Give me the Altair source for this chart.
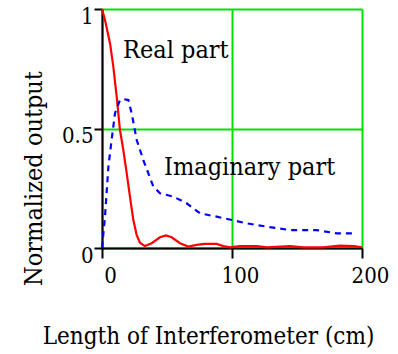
import altair as alt
import pandas as pd

# Real part (red)
real_x = [0, 2.3, 6.2, 8.7, 11.3, 13.8, 16.4, 19, 21.5, 24.1, 26.7, 29.2, 33, 38.2, 44.6, 49.2,
          53.6, 60, 66.4, 72.8, 79, 88.2, 93.3, 98.5, 106, 119, 127, 144.6, 155, 170, 183, 194, 200]
real_y = [1.0, 0.954, 0.856, 0.759, 0.633, 0.494, 0.41, 0.313, 0.215, 0.117, 0.054, 0.022, 0.008,
          0.02, 0.045, 0.053, 0.045, 0.02, 0.006, 0.013, 0.017, 0.017, 0.008, 0.003, 0.008, 0.008,
          0.003, 0.008, 0.003, 0.003, 0.01, 0.008, 0.003]

# Imaginary part (blue dashed)
imag_x = [0, 2.3, 4.9, 7.4, 10, 13.8, 16.4, 20.3, 22.8, 26.7, 31.8, 35.6, 39.5, 44.6, 54.9, 65.1,
          75.4, 88.2, 100, 111.5, 127, 144.6, 165, 180.8, 196]
imag_y = [0.0, 0.131, 0.34, 0.452, 0.564, 0.619, 0.623, 0.619, 0.564, 0.452, 0.368, 0.313, 0.257,
          0.229, 0.215, 0.187, 0.145, 0.131, 0.117, 0.103, 0.089, 0.075, 0.075, 0.061, 0.061]

label_text = ["Real part", "Imaginary part"]
label_x = [16.2, 47.7]
label_y = [0.795, 0.305]

x_ticks = [0, 100, 200]
y_ticks = [0, 0.5, 1]

real_df = pd.DataFrame({"x": real_x, "y": real_y})
imag_df = pd.DataFrame({"x": imag_x, "y": imag_y})
lab_df = pd.DataFrame({"t": label_text, "x": label_x, "y": label_y})

FONT = "DejaVu Serif Condensed"
GREEN = "#00e000"

xs = alt.Scale(domain=[0, 200], nice=False)
ys = alt.Scale(domain=[0, 1], nice=False)

xaxis = alt.Axis(values=x_ticks, title="Length of Interferometer (cm)", grid=True,
                 gridColor=GREEN, gridWidth=2, domainColor="black", domainWidth=2,
                 tickColor="black", tickWidth=2, tickSize=10, labelFont=FONT, labelFontSize=22,
                 labelColor="black", labelOffset=8, labelPadding=7, labelBaseline="top",
                 labelFlush=False,
                 titleFont=FONT, titleFontSize=24, titleFontWeight="normal", titleColor="black",
                 titleX=106, titleY=88, titleBaseline="middle", titleAlign="center")
yaxis = alt.Axis(values=y_ticks, title="Normalized output", grid=True,
                 gridColor=GREEN, gridWidth=2, domainColor="black", domainWidth=2,
                 tickColor="black", tickWidth=2, tickSize=8, labelFont=FONT, labelFontSize=22,
                 labelColor="black", labelPadding=1, labelBaseline="top", labelOffset=-3,
                 labelFlush=False,
                 labelExpr="datum.value == 0.5 ? '0.5' : (datum.value == 1 ? '1' : '0')",
                 titleFont=FONT, titleFontSize=25, titleFontWeight="normal", titleColor="black",
                 titleX=-69, titleY=169, titleBaseline="middle", titleAlign="center", titleAngle=-90)

real = alt.Chart(real_df).mark_line(color="#ff0000", strokeWidth=2.2).encode(
    x=alt.X("x:Q", scale=xs, axis=xaxis),
    y=alt.Y("y:Q", scale=ys, axis=yaxis),
)
imag = alt.Chart(imag_df).mark_line(color="#0000ff", strokeWidth=2.2, strokeDash=[6, 5]).encode(
    x=alt.X("x:Q", scale=xs),
    y=alt.Y("y:Q", scale=ys),
)
labels = alt.Chart(lab_df).mark_text(font=FONT, fontSize=25, align="left", baseline="alphabetic",
                                     color="black").encode(
    x=alt.X("x:Q", scale=xs),
    y=alt.Y("y:Q", scale=ys),
    text="t:N",
)

chart = alt.layer(real, imag, labels).properties(
    width=260, height=239,
    autosize=alt.AutoSizeParams(type="none"),
    padding={"left": 102, "top": 9, "right": 36, "bottom": 106},
).configure_view(stroke=None).configure(background="white", font=FONT)

chart.save("out.html", embed_options={"renderer": "svg", "actions": False})
